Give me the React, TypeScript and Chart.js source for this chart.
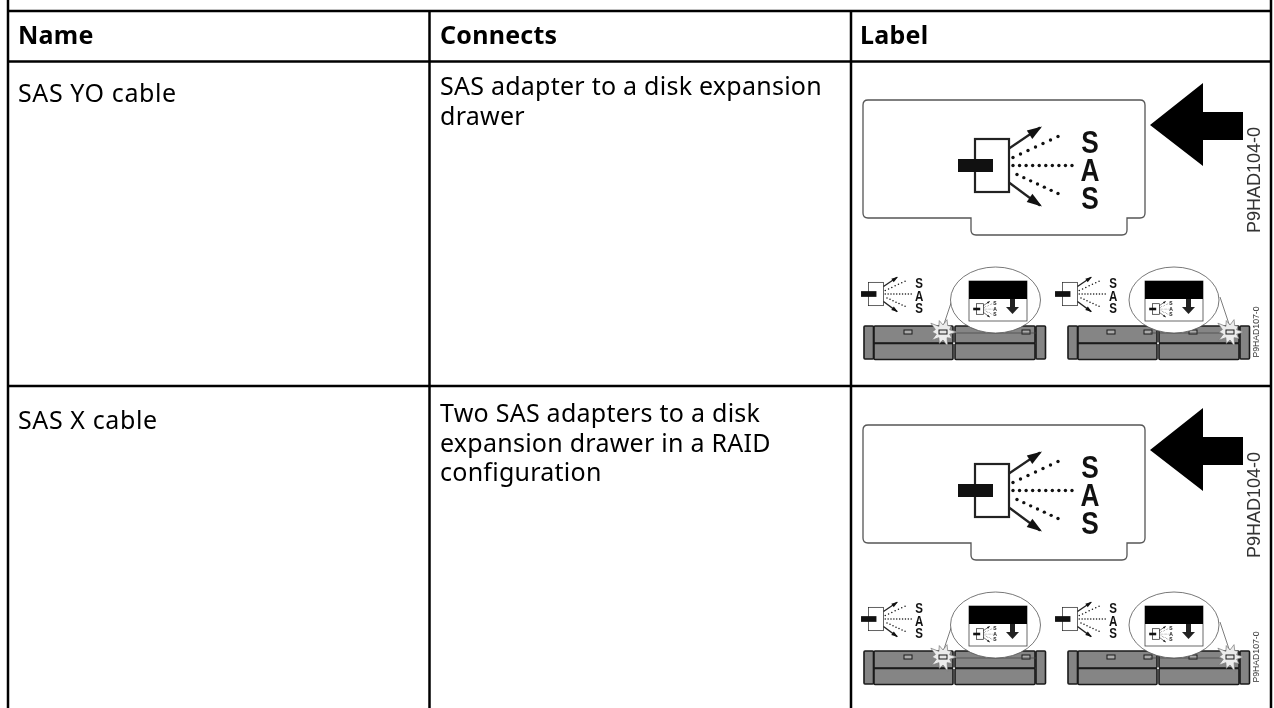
import React, { useEffect, useRef } from "react";
import { Chart, registerables } from "chart.js";

Chart.register(...registerables);

const headers = ["Name", "Connects", "Label"];
const names = ["SAS YO cable", "SAS X cable"];
const connects = [
  ["SAS adapter to a disk expansion", "drawer"],
  ["Two SAS adapters to a disk", "expansion drawer in a RAID", "configuration"],
];
const partLarge = "P9HAD104-0";
const partSmall = "P9HAD107-0";
const iconLetters = ["S", "A", "S"];

const FONT = '"Noto Sans", sans-serif';
const ART = '"Liberation Sans", Arial, sans-serif';

function drawIcon(c: CanvasRenderingContext2D, cx: number, cy: number, s: number, letters = true) {
  c.save();
  c.translate(cx, cy);
  c.scale(s, s);
  c.strokeStyle = "#222";
  c.lineWidth = s < 0.3 ? 3.5 : s < 0.6 ? 1.6 : 2.2;
  c.strokeRect(-17, -26.5, 34, 53);
  c.fillStyle = "#111";
  c.fillRect(-34, -6.5, 35, 13);
  const line = (a: number, b: number, d: number, e: number) => {
    c.beginPath();
    c.moveTo(a, b);
    c.lineTo(d, e);
    c.stroke();
  };
  c.lineWidth = s < 0.6 ? 3 : 2.2;
  line(17, -17, 48, -38);
  line(17, 17, 48, 40);
  const head = (x: number, y: number, dx: number, dy: number) => {
    c.beginPath();
    c.moveTo(x, y);
    c.lineTo(x - 15 * dx + 5 * dy, y - 15 * dy - 5 * dx);
    c.lineTo(x - 15 * dx - 5 * dy, y - 15 * dy + 5 * dx);
    c.closePath();
    c.fill();
  };
  head(50, -39, 0.83, -0.55);
  head(50, 41, 0.83, 0.57);
  const dots = (a: number, b: number, d: number, e: number, n: number) => {
    for (let i = 0; i <= n; i++) {
      c.beginPath();
      c.arc(a + ((d - a) * i) / n, b + ((e - b) * i) / n, 1.7, 0, Math.PI * 2);
      c.fill();
    }
  };
  dots(21, -8, 66, -29, 6);
  dots(21, 0, 80, 0, 9);
  dots(25, 9, 66, 28, 6);
  if (letters) {
    c.font = `bold 32px ${ART}`;
    c.textAlign = "center";
    c.textBaseline = "middle";
    iconLetters.forEach((t, i) => {
      c.save();
      c.translate(98, -22.5 + i * 28);
      c.scale(0.82, 1);
      c.fillText(t, 0, 1);
      c.restore();
    });
  }
  c.restore();
}

function vertText(c: CanvasRenderingContext2D, text: string, x: number, y: number, size: number) {
  c.save();
  c.translate(x, y);
  c.rotate(-Math.PI / 2);
  c.font = `${size}px ${ART}`;
  c.fillStyle = "#333";
  c.textAlign = "center";
  c.textBaseline = "middle";
  c.fillText(text, 0, 0);
  c.restore();
}

function drawBurst(c: CanvasRenderingContext2D, x: number, y: number) {
  const rad = [14, 7, 11, 7, 15, 8, 12, 7, 14, 7, 11, 8, 15, 7, 12, 7, 13, 8, 10, 7];
  c.beginPath();
  rad.forEach((r, i) => {
    const a = (i / rad.length) * Math.PI * 2;
    const px = x + r * Math.cos(a);
    const py = y + r * Math.sin(a);
    if (i === 0) c.moveTo(px, py);
    else c.lineTo(px, py);
  });
  c.closePath();
  c.fillStyle = "#ececec";
  c.fill();
  c.strokeStyle = "#777";
  c.lineWidth = 0.7;
  c.stroke();
}

function drawDrawer(
  c: CanvasRenderingContext2D,
  x: number,
  y: number,
  slots: number[],
  burstX: number,
  bubbleX: number,
  labelX: number,
  leaderX: number,
  lineFrom: number,
  lineTo: number
) {
  const gray = "#858585";
  const dark = "#1a1a1a";
  const box = (a: number, b: number, w: number, h: number) => {
    c.fillStyle = gray;
    c.strokeStyle = dark;
    c.lineWidth = 1.6;
    c.beginPath();
    c.roundRect(a, b, w, h, 1);
    c.fill();
    c.stroke();
  };
  box(x + 1, y + 1, 9.5, 33);
  box(x + 173, y + 1, 9.5, 33);
  box(x + 11, y + 1, 79, 17);
  box(x + 11, y + 18.5, 79, 16);
  box(x + 92, y + 1, 80, 17);
  box(x + 92, y + 18.5, 80, 16);
  c.fillStyle = "#eee";
  c.fillRect(x + 90.3, y + 17.5, 1.5, 1.5);
  slots.forEach((s) => {
    c.fillStyle = "#aaa";
    c.strokeStyle = dark;
    c.lineWidth = 1;
    c.fillRect(s - 4, y + 5, 8, 4);
    c.strokeRect(s - 4, y + 5, 8, 4);
  });

  c.strokeStyle = "#444";
  c.lineWidth = 0.7;
  c.beginPath();
  c.moveTo(lineFrom, y + 8);
  c.lineTo(lineTo, y + 8);
  c.moveTo(leaderX, y - 28);
  c.lineTo(burstX, y + 2);
  c.stroke();

  // call-out bubble
  c.beginPath();
  c.ellipse(bubbleX, y - 25, 45, 33, 0, 0, Math.PI * 2);
  c.fillStyle = "#fff";
  c.fill();
  c.strokeStyle = "#555";
  c.lineWidth = 0.8;
  c.stroke();
  c.strokeStyle = "#444";
  c.lineWidth = 0.8;
  c.strokeRect(labelX, y - 44, 58, 40);
  c.fillStyle = "#000";
  c.fillRect(labelX, y - 44, 58, 18);
  drawIcon(c, labelX + 11, y - 16, 0.2, false);
  c.fillStyle = "#222";
  c.font = `bold 5px ${ART}`;
  c.textAlign = "center";
  c.textBaseline = "middle";
  iconLetters.forEach((t, i) => c.fillText(t, labelX + 26, y - 21 + i * 5.5));
  c.fillRect(labelX + 41, y - 26, 5, 8);
  c.beginPath();
  c.moveTo(labelX + 37, y - 18);
  c.lineTo(labelX + 50, y - 18);
  c.lineTo(labelX + 43.5, y - 11);
  c.closePath();
  c.fill();

  drawBurst(c, burstX, y + 7);
  c.fillStyle = "#e4e4e4";
  c.strokeStyle = dark;
  c.lineWidth = 1;
  c.fillRect(burstX - 4, y + 5, 8, 4);
  c.strokeRect(burstX - 4, y + 5, 8, 4);
}

function drawLabelArt(c: CanvasRenderingContext2D, dy: number) {
  c.save();
  c.translate(0, dy);
  c.filter = "blur(0.5px)";
  // card
  c.strokeStyle = "#555";
  c.lineWidth = 1.3;
  c.beginPath();
  c.moveTo(868, 100);
  c.lineTo(1140, 100);
  c.quadraticCurveTo(1145, 100, 1145, 105);
  c.lineTo(1145, 213);
  c.quadraticCurveTo(1145, 218, 1140, 218);
  c.lineTo(1127, 218);
  c.lineTo(1127, 230);
  c.quadraticCurveTo(1127, 235, 1122, 235);
  c.lineTo(976, 235);
  c.quadraticCurveTo(971, 235, 971, 230);
  c.lineTo(971, 218);
  c.lineTo(868, 218);
  c.quadraticCurveTo(863, 218, 863, 213);
  c.lineTo(863, 105);
  c.quadraticCurveTo(863, 100, 868, 100);
  c.closePath();
  c.stroke();

  // arrow
  c.fillStyle = "#000";
  c.beginPath();
  c.moveTo(1150, 125);
  c.lineTo(1203, 83);
  c.lineTo(1203, 112);
  c.lineTo(1243, 112);
  c.lineTo(1243, 140);
  c.lineTo(1203, 140);
  c.lineTo(1203, 166);
  c.closePath();
  c.fill();

  drawIcon(c, 992, 165.5, 1);
  vertText(c, partLarge, 1255, 180, 18);

  // small icons
  drawIcon(c, 876, 294, 0.44);
  drawIcon(c, 1070, 294, 0.44);

  drawDrawer(c, 863, 325, [908, 944, 1026], 943, 995.5, 969, 953, 950, 1036);
  drawDrawer(c, 1067, 325, [1111, 1148, 1193], 1230, 1174, 1145, 1220, 1150, 1236);
  vertText(c, partSmall, 1257, 332, 8.7);
  c.restore();
}

const tablePlugin = {
  id: "table",
  afterDraw(chart: any) {
    const c: CanvasRenderingContext2D = chart.ctx;
    const X = (v: number) => chart.scales.x.getPixelForValue(v);
    const Y = (v: number) => chart.scales.y.getPixelForValue(v);
    c.save();
    c.fillStyle = "#fff";
    c.fillRect(0, 0, chart.width, chart.height);

    drawLabelArt(c, 0);
    drawLabelArt(c, 325);

    // rules
    c.strokeStyle = "#000";
    c.lineWidth = 2.5;
    const rule = (a: number, b: number, d: number, e: number) => {
      c.beginPath();
      c.moveTo(X(a), Y(b));
      c.lineTo(X(d), Y(e));
      c.stroke();
    };
    [8, 429.5, 851, 1271].forEach((v, i) => rule(v, i === 1 || i === 2 ? 11 : 0, v, 708));
    [11, 61.5, 386].forEach((v) => rule(7, v, 1272, v));

    // text
    const colX = [18, 440, 860];
    c.fillStyle = "#000";
    c.textAlign = "left";
    c.textBaseline = "alphabetic";
    (c as any).letterSpacing = "0.25px";
    c.font = `bold 25px ${FONT}`;
    headers.forEach((h, i) => c.fillText(h, X(colX[i]), Y(44)));
    c.font = `25px ${FONT}`;
    const connectBase = [95, 422];
    connects.forEach((lines, i) =>
      lines.forEach((t, j) => c.fillText(t, X(colX[1]), Y(connectBase[i] + j * 29.5)))
    );
    (c as any).letterSpacing = "0.6px";
    const rowBase = [102, 429];
    names.forEach((n, i) => c.fillText(n, X(colX[0]), Y(rowBase[i])));
    c.restore();
  },
};

export default function App() {
  const ref = useRef<HTMLCanvasElement>(null);
  useEffect(() => {
    document.body.style.margin = "0";
    const chart = new Chart(ref.current!, {
      type: "scatter",
      data: { datasets: [{ data: [] }] },
      options: {
        animation: false,
        responsive: false,
        layout: { padding: 0 },
        plugins: { legend: { display: false }, tooltip: { enabled: false } },
        scales: {
          x: { type: "linear", min: 0, max: 1274, display: false },
          y: { type: "linear", min: 0, max: 708, reverse: true, display: false },
        },
      },
      plugins: [tablePlugin],
    });
    return () => chart.destroy();
  }, []);
  return <canvas ref={ref} width={1274} height={708} style={{ display: "block" }} />;
}
